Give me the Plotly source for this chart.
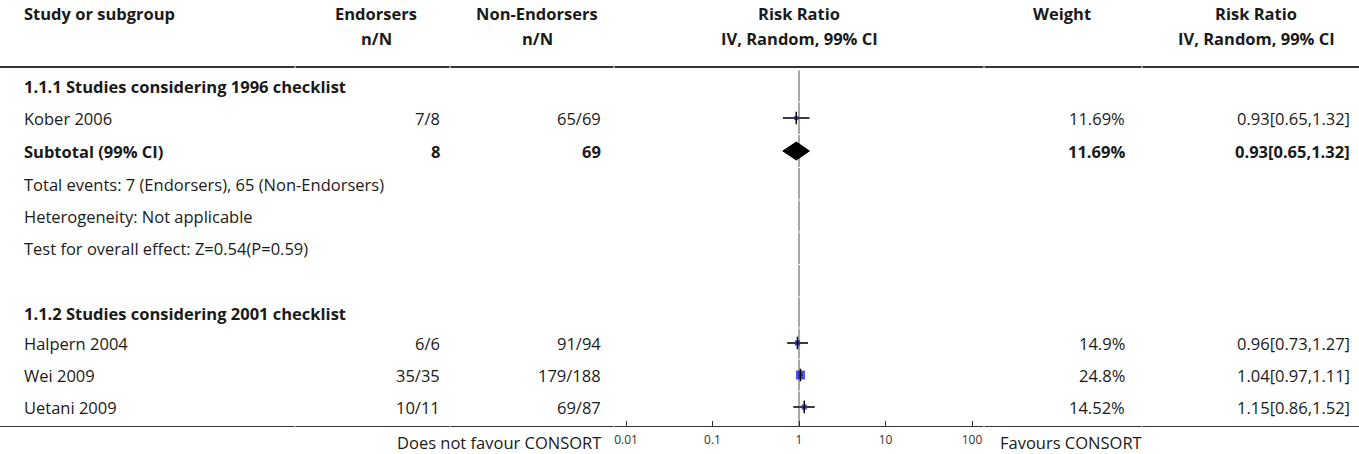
import plotly.graph_objects as go

# ---------------- data ----------------
group1_title = "1.1.1 Studies considering 1996 checklist"
group2_title = "1.1.2 Studies considering 2001 checklist"

studies = ["Kober 2006", "Halpern 2004", "Wei 2009", "Uetani 2009"]
endorsers_nN = ["7/8", "6/6", "35/35", "10/11"]
non_endorsers_nN = ["65/69", "91/94", "179/188", "69/87"]
rr = [0.93, 0.96, 1.04, 1.15]
rr_lo = [0.65, 0.73, 0.97, 0.86]
rr_hi = [1.32, 1.27, 1.11, 1.52]
weights = [11.69, 14.9, 24.8, 14.52]
weight_labels = ["11.69%", "14.9%", "24.8%", "14.52%"]

sub1_endorsers = 8
sub1_non_endorsers = 69
sub1_rr, sub1_lo, sub1_hi = 0.93, 0.65, 1.32
sub1_weight = "11.69%"
sub1_notes = ["Total events: 7 (Endorsers), 65 (Non-Endorsers)",
              "Heterogeneity: Not applicable",
              "Test for overall effect: Z=0.54(P=0.59)"]

tick_vals = [0.01, 0.1, 1, 10, 100]
tick_text = ["0.01", "0.1", "1", "10", "100"]
left_label = "Does not favour CONSORT"
right_label = "Favours CONSORT"

# ---------------- layout constants ----------------
W, H = 1359, 454
FONT = "'Open Sans', 'Noto Sans', sans-serif"
FS = 16.5
AX_Y = 427                      # y pixel of the bottom rule / axis
PLOT_L, PLOT_R, ONE_X, DEC = 614, 984, 799, 86.5

row_y = {
    "h1": 13, "h2": 38,
    "g1": 86, "kober": 118, "sub1": 151, "n1": 184, "n2": 216, "n3": 248,
    "g2": 313, "halpern": 343, "wei": 375, "uetani": 407,
}
study_rows = ["kober", "halpern", "wei", "uetani"]

fig = go.Figure()

def fmt_ci(a, b, c):
    return f"{a:.2f}[{b:.2f},{c:.2f}]"

# ---------------- forest marks ----------------
ys = [row_y[k] for k in study_rows]
fig.add_trace(go.Scatter(
    x=rr, y=ys, mode="markers",
    marker=dict(symbol="square", color="#0000ff", size=[w * 0.36 for w in weights],
                line=dict(width=0)),
    hoverinfo="skip", showlegend=False))
fig.add_trace(go.Scatter(
    x=rr, y=ys, mode="markers",
    marker=dict(size=0.1, color="rgba(0,0,0,0)"),
    error_x=dict(type="data", symmetric=False,
                 array=[h - r for h, r in zip(rr_hi, rr)],
                 arrayminus=[r - l for r, l in zip(rr, rr_lo)],
                 color="#3a3a3a", thickness=2, width=0),
    hoverinfo="skip", showlegend=False))
fig.add_trace(go.Scatter(
    x=rr, y=ys, mode="markers",
    marker=dict(symbol="line-ns", size=9, line=dict(color="#000000", width=1.5)),
    hoverinfo="skip", showlegend=False))
yd = row_y["sub1"]
fig.add_trace(go.Scatter(
    x=[sub1_lo, sub1_rr, sub1_hi, sub1_rr, sub1_lo],
    y=[yd, yd - 9, yd, yd + 9, yd],
    mode="lines", fill="toself", fillcolor="#000000",
    line=dict(color="#000000", width=1), hoverinfo="skip", showlegend=False))

# ---------------- vertical line of no effect (segmented per row) ----------------
all_rows = [86, 118, 151, 184, 216, 248, 281, 313, 343, 375, 407]
bounds = [70] + [(a + b) / 2 for a, b in zip(all_rows[:-1], all_rows[1:])] + [AX_Y]
for a, b in zip(bounds[:-1], bounds[1:]):
    fig.add_shape(type="line", xref="x", yref="y", x0=1, x1=1, y0=a + 0.5, y1=b - 0.5,
                  line=dict(color="#a8a8a8", width=2), layer="below")

# ---------------- horizontal rules ----------------
col_bounds = [0, 295, 450, 614, 984, 1142, W]
for yy in (67, AX_Y):
    for a, b in zip(col_bounds[:-1], col_bounds[1:]):
        fig.add_shape(type="line", xref="paper", yref="y",
                      x0=(a + (0.5 if a else 0)) / W, x1=(b - (0.5 if b < W else 0)) / W,
                      y0=yy, y1=yy, line=dict(color="#333333", width=2))

# ---------------- text ----------------
def txt(s, x, y, anchor="left", bold=False, size=FS, color="#1a1a1a", yref="y"):
    fig.add_annotation(text=f"<b>{s}</b>" if bold else s, x=x / W, xref="paper",
                       y=y, yref=yref, xanchor=anchor, yanchor="middle",
                       showarrow=False, font=dict(family=FONT, size=size, color=color))

X_STUDY, X_END, X_NON, X_WT, X_RR = 22, 442, 603, 1127, 1352
C_END, C_NON, C_PLOT, C_WT, C_RR = 376, 537, 799, 1062, 1256

txt("Study or subgroup", X_STUDY, row_y["h1"], bold=True)
txt("Endorsers", C_END, row_y["h1"], "center", True)
txt("n/N", C_END, row_y["h2"], "center", True)
txt("Non-Endorsers", C_NON, row_y["h1"], "center", True)
txt("n/N", C_NON, row_y["h2"], "center", True)
txt("Risk Ratio", C_PLOT, row_y["h1"], "center", True)
txt("IV, Random, 99% CI", C_PLOT, row_y["h2"], "center", True)
txt("Weight", C_WT, row_y["h1"], "center", True)
txt("Risk Ratio", C_RR, row_y["h1"], "center", True)
txt("IV, Random, 99% CI", C_RR, row_y["h2"], "center", True)

txt(group1_title, X_STUDY, row_y["g1"], bold=True)
txt(group2_title, X_STUDY, row_y["g2"], bold=True)

for i, k in enumerate(study_rows):
    y = row_y[k]
    txt(studies[i], X_STUDY, y)
    txt(endorsers_nN[i], X_END, y, "right")
    txt(non_endorsers_nN[i], X_NON, y, "right")
    txt(weight_labels[i], X_WT, y, "right")
    txt(fmt_ci(rr[i], rr_lo[i], rr_hi[i]), X_RR, y, "right")

y = row_y["sub1"]
txt("Subtotal (99% CI)", X_STUDY, y, bold=True)
txt(str(sub1_endorsers), X_END, y, "right", True)
txt(str(sub1_non_endorsers), X_NON, y, "right", True)
txt(sub1_weight, X_WT, y, "right", True)
txt(fmt_ci(sub1_rr, sub1_lo, sub1_hi), X_RR, y, "right", True)

for note, k in zip(sub1_notes, ["n1", "n2", "n3"]):
    txt(note, X_STUDY, row_y[k])

txt(left_label, X_NON, 1 - 442 / H, "right", yref="paper")
txt(right_label, 998, 1 - 442 / H, "left", yref="paper")

# ---------------- axes ----------------
fig.update_layout(
    width=W, height=H, margin=dict(l=0, r=0, t=0, b=0),
    paper_bgcolor="white", plot_bgcolor="white",
    showlegend=False,
    xaxis=dict(type="log", domain=[PLOT_L / W, PLOT_R / W],
               range=[-(ONE_X - PLOT_L) / DEC, (PLOT_R - ONE_X) / DEC],
               tickvals=tick_vals, ticktext=tick_text, ticks="inside", ticklen=6,
               tickcolor="#333333", tickwidth=1, showgrid=False, zeroline=False,
               showline=False, ticklabelstandoff=4,
               tickfont=dict(family=FONT, size=12, color="#333333"),
               fixedrange=True),
    yaxis=dict(domain=[(H - AX_Y) / H, 1], range=[AX_Y, 0], visible=False,
               showgrid=False, zeroline=False, fixedrange=True),
)

fig.write_html("out.html")
